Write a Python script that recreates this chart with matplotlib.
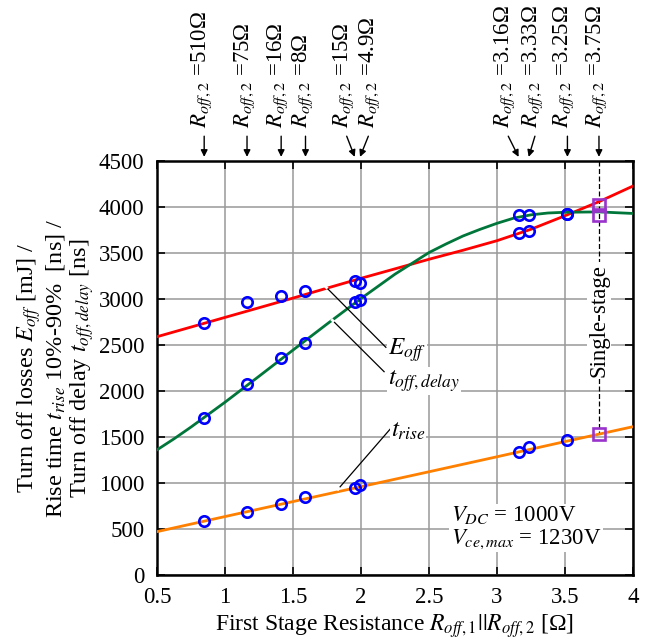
import matplotlib
matplotlib.use("Agg")
import matplotlib.pyplot as plt

plt.rcParams["font.family"] = ["Liberation Serif", "DejaVu Serif"]
plt.rcParams["mathtext.fontset"] = "stix"

# measured points (x = R_off,1 || R_off,2 in ohm)
x_meas = [0.847, 1.162, 1.413, 1.592, 1.954, 1.993, 3.159, 3.233, 3.518]
eoff_meas = [2736, 2971, 3033, 3090, 3199, 3177, 3714, 3739, 3924]
tdelay_meas = [1703, 2076, 2356, 2525, 2971, 2989, 3917, 3917, 3924]
trise_meas = [590, 688, 772, 851, 949, 978, 1340, 1395, 1467]

# single-stage reference
single_x = 3.75
single_vals = [4025, 3910, 1529]

# fitted curves
x_eoff = [0.5, 0.75, 1.0, 1.25, 1.5, 1.75, 2.0, 2.25, 2.5, 2.75, 3.0, 3.25, 3.5, 3.75, 4.0]
eoff_fit = [2590, 2695, 2800, 2905, 3010, 3118, 3225, 3328, 3432, 3530, 3634, 3758, 3905, 4058, 4228]
x_delay = [0.5, 0.625, 0.75, 1.0, 1.25, 1.5, 1.75, 2.0, 2.25, 2.5, 2.625, 2.75, 2.875,
           3.0, 3.125, 3.25, 3.375, 3.5, 3.75, 4.0]
tdelay_fit = [1360, 1480, 1608, 1878, 2160, 2445, 2728, 3005, 3270, 3505, 3598, 3685, 3757,
              3823, 3880, 3915, 3935, 3943, 3947, 3930]
x_rise = [0.5, 1.0, 1.5, 2.0, 2.5, 3.0, 3.5, 4.0]
trise_fit = [471, 635, 798, 960, 1122, 1285, 1450, 1612]

# top annotations: label, arrow tip x, arrow start x, text x
r2_labels = ["510Ω", "75Ω", "16Ω", "8Ω", "15Ω", "4.9Ω", "3.16Ω", "3.33Ω", "3.25Ω", "3.75Ω"]
arrow_tip = [0.847, 1.162, 1.413, 1.592, 1.954, 1.993, 3.159, 3.233, 3.518, 3.75]
arrow_start = [0.847, 1.162, 1.413, 1.592, 1.895, 2.054, 3.083, 3.279, 3.518, 3.75]
label_x = [0.83, 1.145, 1.385, 1.57, 1.875, 2.065, 3.055, 3.26, 3.49, 3.73]

fig = plt.figure(figsize=(6.49, 6.39), dpi=100)
ax = fig.add_axes([0.2419, 0.1002, 0.9753 - 0.2419, 0.748 - 0.1002])

ax.plot(x_eoff, eoff_fit, color="#ff0000", lw=2, zorder=3)
ax.plot(x_delay, tdelay_fit, color="#00763a", lw=2, zorder=3)
ax.plot(x_rise, trise_fit, color="#ff8000", lw=2, zorder=3)

for vals in (eoff_meas, tdelay_meas, trise_meas):
    ax.plot(x_meas, vals, "o", mfc="none", mec="#0000ff", ms=7.5, mew=1.9, zorder=5)

ax.plot([single_x] * 3, single_vals, "s", mfc="none", mec="#9933cc", ms=8.5, mew=1.9, zorder=5)
ax.plot([single_x, single_x], [4500, single_vals[2]], color="black", lw=0.9, ls=(0, (4, 2)), zorder=2)
ax.text(single_x, 2770, "Single-stage", rotation=90, ha="center", va="center", fontsize=16.5,
        bbox=dict(fc="white", ec="none", pad=1), zorder=4)

# curve labels with leader lines
leaders = [((1.74, 3134), (2.183, 2475)), ((1.789, 2770), (2.17, 2210)), ((1.831, 932), (2.22, 1595))]
for (x0, y0), (x1, y1) in leaders:
    ax.plot([x0, x1], [y0, y1], color="black", lw=0.9, zorder=6)
    ax.plot([x0, x0 + 0.015 * (x1 - x0)], [y0, y0 + 0.015 * (y1 - y0)], color="white", lw=2, zorder=6)
ax.text(2.2, 2440, "$E_{off}$", fontsize=18, ha="left", va="center",
        bbox=dict(fc="white", ec="none", pad=0.5), zorder=7)
ax.text(2.2, 2110, "$t_{off,delay}$", fontsize=18, ha="left", va="center",
        bbox=dict(fc="white", ec="none", pad=0.5), zorder=7)
ax.text(2.22, 1560, "$t_{rise}$", fontsize=18, ha="left", va="center",
        bbox=dict(fc="white", ec="none", pad=0.5), zorder=7)

ax.text(2.66, 520, "$V_{DC}$ = 1000V\n$V_{ce,max}$ = 1230V", fontsize=16.5, ha="left", va="center",
        linespacing=1.1, bbox=dict(fc="white", ec="none", pad=1), zorder=7)

for lab, tip, start, tx in zip(r2_labels, arrow_tip, arrow_start, label_x):
    ax.annotate("", xy=(tip, 4545), xytext=(start, 4770), annotation_clip=False,
                arrowprops=dict(arrowstyle="-|>", color="black", lw=1, mutation_scale=10, shrinkA=0, shrinkB=0))
    ax.text(tx, 4860, "$R_{off,2}$ =" + lab, rotation=90, ha="center", va="bottom",
            fontsize=16.5, clip_on=False)

ax.set_xlim(0.5, 4)
ax.set_ylim(0, 4500)
ax.set_xticks([0.5, 1, 1.5, 2, 2.5, 3, 3.5, 4])
ax.set_xticklabels(["0.5", "1", "1.5", "2", "2.5", "3", "3.5", "4"])
ax.set_yticks(range(0, 4501, 500))
ax.grid(True, color="#999999", lw=1.1)
ax.set_axisbelow(True)
ax.tick_params(direction="in", length=6, width=1.2, top=True, right=True, labelsize=16.5)
ax.tick_params(axis="x", pad=9)
ax.tick_params(axis="y", pad=9)
for s in ax.spines.values():
    s.set_linewidth(1.8)

ax.set_xlabel("First Stage Resistance $R_{off,1}||R_{off,2}$ [Ω]", fontsize=17, labelpad=3)
ax.set_ylabel("Turn off losses $E_{off}$ [mJ] /\nRise time $t_{rise}$ 10%-90%  [ns] /\n"
              "Turn off delay $t_{off,delay}$ [ns]", fontsize=17.5, linespacing=1.05, labelpad=2)

fig.savefig("out.png", dpi=100)
